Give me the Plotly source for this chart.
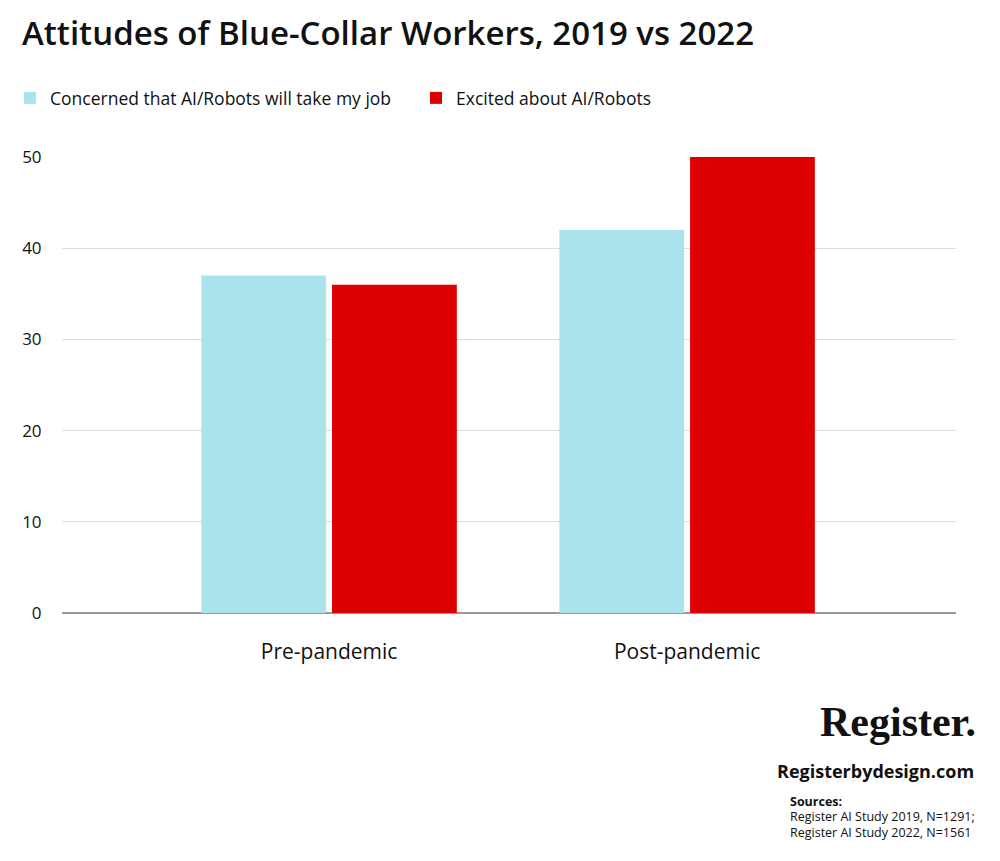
import plotly.graph_objects as go

categories = ["Pre-pandemic", "Post-pandemic"]
series_names = ["Concerned that AI/Robots will take my job", "Excited about AI/Robots"]
concerned = [37, 42]
excited = [36, 50]
y_ticks = [0, 10, 20, 30, 40, 50]

FONT = "Open Sans"
OFF = 8  # page body margin offset
W, H = 1000 - OFF, 861 - OFF

# plot area in reference pixel coords
L, R, T, B = 62, 956, 157, 613


def px(x):
    return (x - L) / (R - L)


def py(y):
    return (B - y) / (B - T)


fig = go.Figure()
fig.add_trace(go.Bar(x=categories, y=concerned, name=series_names[0],
                     marker=dict(color="#ABE3ED", line=dict(width=0))))
fig.add_trace(go.Bar(x=categories, y=excited, name=series_names[1],
                     marker=dict(color="#DD0000", line=dict(width=0))))

fig.update_layout(
    width=W, height=H,
    paper_bgcolor="white", plot_bgcolor="white",
    margin=dict(l=L - OFF, r=1000 - R, t=T - OFF, b=861 - B),
    barmode="group", bargap=0.27, bargroupgap=0.045,
    font=dict(family=FONT, color="#111111"),
    title=dict(text="Attitudes of Blue-Collar Workers, 2019 vs 2022",
               x=(22 - OFF) / W, xanchor="left", xref="container",
               y=1 - (33 - OFF) / H, yanchor="middle", yref="container",
               font=dict(family=FONT, size=33, color="#111111", weight=600)),
    legend=dict(orientation="h", x=(10 - OFF) / W, xanchor="left", xref="container",
                y=1 - (98 - OFF) / H, yanchor="middle", yref="container",
                font=dict(family=FONT, size=17.5, color="#111111"),
                entrywidth=361, entrywidthmode="pixels",
                itemclick=False, traceorder="normal"),
    xaxis=dict(type="category", range=[-0.746, 1.751], showgrid=False,
               ticks="outside", ticklen=20, tickcolor="rgba(0,0,0,0)",
               tickfont=dict(family=FONT, size=21, color="#111111"),
               showline=False, zeroline=False),
    yaxis=dict(range=[0, 50], tickvals=y_ticks, showgrid=True, gridcolor="#DDDDDD",
               gridwidth=1, zeroline=True, zerolinecolor="#999999", zerolinewidth=2,
               ticks="outside", ticklen=16, tickcolor="rgba(0,0,0,0)",
               tickfont=dict(family=FONT, size=17, color="#111111"),
               showline=False),
)

fig.add_annotation(text="<b>Register.</b>", xref="paper", yref="paper",
                   x=px(978), y=py(722), xanchor="right", yanchor="middle",
                   showarrow=False, font=dict(family="Liberation Serif", size=42, color="#111111"))
fig.add_annotation(text="<b>Registerbydesign.com</b>", xref="paper", yref="paper",
                   x=px(976), y=py(771), xanchor="right", yanchor="middle",
                   showarrow=False, font=dict(family=FONT, size=18, color="#111111"))
source_lines = ["<b>Sources:</b>", "Register AI Study 2019, N=1291;", "Register AI Study 2022, N=1561"]
for i, line in enumerate(source_lines):
    fig.add_annotation(text=line, xref="paper", yref="paper", align="left",
                       x=px(788), y=py(801 + 15.5 * i), xanchor="left", yanchor="middle",
                       showarrow=False, font=dict(family=FONT, size=12.5, color="#111111"))

fig.write_html("out.html")
